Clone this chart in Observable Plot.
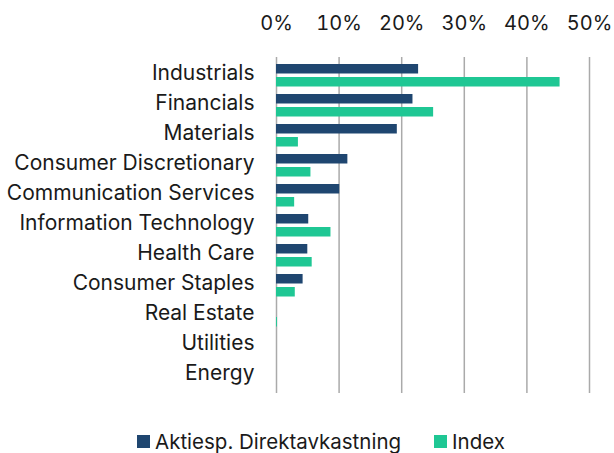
<!DOCTYPE html>
<html>
<head>
<meta charset="utf-8">
<script src="https://cdn.jsdelivr.net/npm/d3@7"></script>
<script src="https://cdn.jsdelivr.net/npm/@observablehq/plot@0.6"></script>
<style>
  body { margin: 0; background: #fff; font-family: Inter, "Noto Sans", sans-serif; color: #1a1a1a; position: relative; width: 614px; height: 453px; overflow: hidden; }
  #legend { position: absolute; top: 430px; left: 137px; display: flex; align-items: center; height: 22px; font-size: 20.5px; }
  .item { display: flex; align-items: center; margin-right: 33px; }
  .sw { width: 13px; height: 13px; margin-right: 5px; display: inline-block; }
</style>
</head>
<body>
<div id="chart"></div>
<div id="legend"></div>
<script>
const categories = ["Industrials","Financials","Materials","Consumer Discretionary","Communication Services","Information Technology","Health Care","Consumer Staples","Real Estate","Utilities","Energy"];
const seriesNames = ["Aktiesp. Direktavkastning","Index"];
const aktiesp = [22.7, 21.8, 19.3, 11.4, 10.1, 5.15, 5.0, 4.25, 0, 0, 0];
const indexVals = [45.3, 25.1, 3.5, 5.5, 2.9, 8.7, 5.7, 3.0, 0.15, 0, 0];
const xTicks = [0, 10, 20, 30, 40, 50];
const colors = ["#1f4670", "#1fc794"];

const dark = categories.map((c, i) => ({category: c, value: aktiesp[i] / 100}));
const green = categories.map((c, i) => ({category: c, value: indexVals[i] / 100}));

const chart = Plot.plot({
  width: 614,
  height: 405,
  marginTop: 57,
  marginBottom: 12,
  marginLeft: 276,
  marginRight: 25,
  style: {fontFamily: "Inter, 'Noto Sans', sans-serif", fontSize: "21px", color: "#1a1a1a"},
  x: {domain: [0, 0.5], label: null},
  y: {domain: categories, padding: 0, label: null},
  marks: [
    Plot.ruleX(xTicks.map(d => d / 100), {stroke: "#aaaaaa", strokeWidth: 1.5}),
    Plot.axisX({anchor: "top", ticks: xTicks.map(d => d / 100), tickFormat: d => Math.round(d * 100) + "%", tickSize: 0, tickPadding: 28, label: null, fontSize: 20}),
    Plot.axisY({anchor: "left", tickSize: 0, tickPadding: 22, dy: -2, label: null}),
    Plot.barX(dark, {x: "value", y: "category", fill: colors[0], insetTop: 4, insetBottom: 16.5}),
    Plot.barX(green, {x: "value", y: "category", fill: colors[1], insetTop: 17, insetBottom: 3.5})
  ]
});
document.getElementById("chart").appendChild(chart);

const legend = document.getElementById("legend");
seriesNames.forEach((s, i) => {
  const it = document.createElement("div");
  it.className = "item";
  it.innerHTML = `<span class="sw" style="background:${colors[i]}"></span><span>${s}</span>`;
  legend.appendChild(it);
});
</script>
</body>
</html>
